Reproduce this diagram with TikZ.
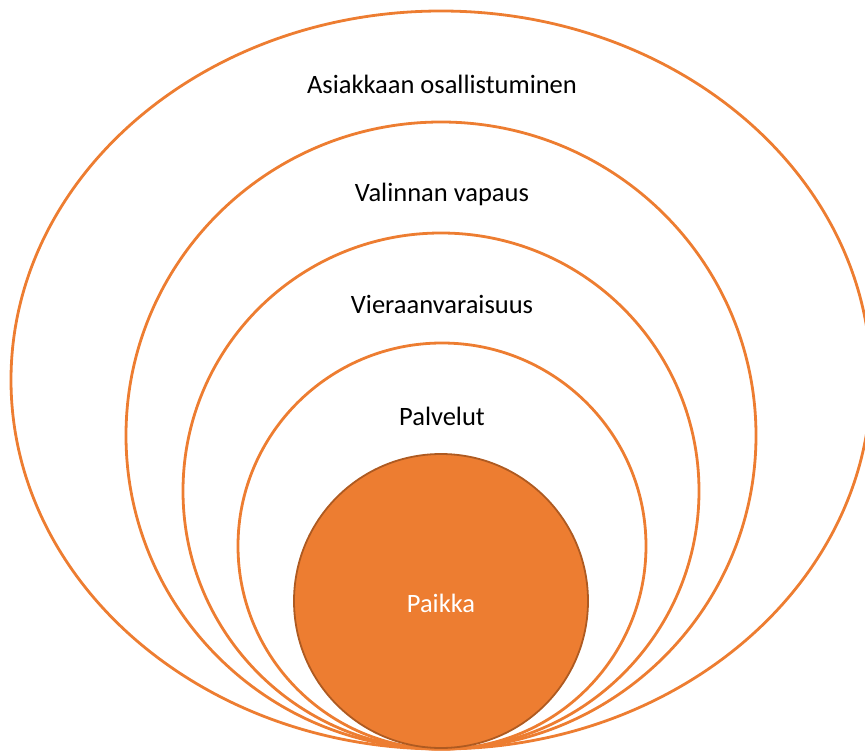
\documentclass[tikz,border=0pt]{standalone}
\usepackage{fontspec}
\setmainfont{Carlito}
\definecolor{OffOrange}{HTML}{ED7D31}
\definecolor{OffOrangeDark}{HTML}{AE5A21}

\begin{document}
\begin{tikzpicture}[x=1pt,y=-1pt,
    ring/.style={draw=OffOrange, line width=2.8pt},
    ringlabel/.style={font=\fontsize{26.5}{31}\selectfont, text=black}]
    \useasboundingbox (0,0) rectangle (865,751);

    % Ellipsen (alle unten beruehrend)
    \draw[ring] (441,380) ellipse [x radius=430, y radius=369];
    \draw[ring] (441,435.5) ellipse [x radius=315, y radius=313.5];
    \draw[ring] (441,491) ellipse [x radius=258, y radius=258];
    \draw[ring] (442,546) ellipse [x radius=204, y radius=203];

    % Kreis innen
    \filldraw[fill=OffOrange, draw=OffOrangeDark, line width=1.8pt] (441,601) circle [radius=147];

    % Beschriftungen
    \node[ringlabel] (asiakas) at (442,84) {Asiakkaan osallistuminen};
    \node[ringlabel] (valinta) at (442,194) {Valinnan vapaus};
    \node[ringlabel] (vieras) at (442,304) {Vieraanvaraisuus};
    \node[ringlabel] (palvelut) at (442,416) {Palvelut};
    \node[ringlabel, text=white] (paikka) at (441,603) {Paikka};
\end{tikzpicture}
\end{document}
